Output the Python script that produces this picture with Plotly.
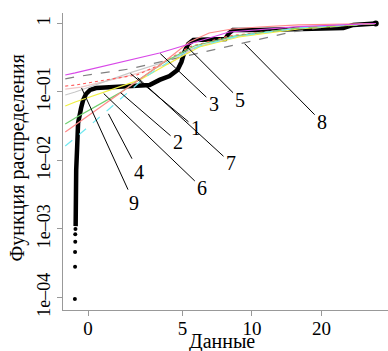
import math
import plotly.graph_objects as go

# ---------------- data ----------------
# empirical CDF: lowest isolated points
ecdf_low_x = [-0.70, -0.69, -0.69, -0.68, -0.68, -0.67]
ecdf_low_p = [9.5e-5, 2.8e-4, 4.6e-4, 6.5e-4, 8.4e-4, 1.0e-3]
# empirical CDF: dense part
ecdf_x = [-0.66, -0.66, -0.63, -0.58, -0.53, -0.37, -0.26, -0.11, 0.11, 0.42, 1.16, 2.58,
          3.26, 3.79, 4.32, 4.74, 4.95, 5.10, 5.30, 5.58, 6.21, 7.66, 7.97, 8.28, 10.7,
          15.9, 20.8, 24.9, 27.5, 31.9, 34.4]
ecdf_p = [1.1e-3, 2.65e-3, 7.3e-3, 0.0157, 0.0353, 0.0584, 0.0764, 0.0935, 0.107, 0.114,
          0.118, 0.122, 0.126, 0.150, 0.171, 0.21, 0.274, 0.384, 0.502, 0.574, 0.574,
          0.594, 0.727, 0.804, 0.804, 0.817, 0.831, 0.86, 0.951, 0.967, 1.0]

# fitted model CDFs
m1_x = [-1.21, -0.684, 2.21, 4.05, 5.63, 8.37, 15.93, 34.4]
m1_p = [0.0903, 0.100, 0.190, 0.274, 0.439, 0.635, 0.86, 1.0]
m2_x = [-1.21, -0.684, 1.684, 4.05, 5.63, 8.37, 15.93, 34.4]
m2_p = [0.0341, 0.0417, 0.097, 0.274, 0.469, 0.657, 0.86, 1.0]
m3_x = [-1.21, -0.684, 3.79, 5.36, 7.97, 15.93, 34.4]
m3_p = [0.177, 0.190, 0.371, 0.502, 0.751, 0.90, 1.0]
m4_x = [-1.21, -0.684, 1.053, 3.05, 4.58, 5.92, 8.79, 15.93, 34.4]
m4_p = [0.0163, 0.0213, 0.0546, 0.166, 0.314, 0.469, 0.657, 0.86, 1.0]
m5_x = [-1.21, -0.684, 3.95, 5.36, 6.53, 8.20, 10.72, 15.93, 34.4]
m5_p = [0.026, 0.033, 0.265, 0.537, 0.727, 0.831, 0.889, 0.951, 1.0]
m6_x = [-1.21, -0.684, 2.74, 4.32, 5.92, 8.79, 15.93, 34.4]
m6_p = [0.0624, 0.0714, 0.150, 0.265, 0.454, 0.635, 0.831, 1.0]
m7_x = [-1.21, -0.684, 0.947, 2.58, 3.79, 5.36, 7.97, 15.93, 34.4]
m7_p = [0.122, 0.126, 0.150, 0.177, 0.248, 0.454, 0.657, 0.86, 1.0]
m8_x = [-1.21, -0.684, 2.21, 6.73, 9.23, 14.86, 19.41, 34.4]
m8_p = [0.155, 0.166, 0.217, 0.410, 0.519, 0.751, 0.86, 1.0]
m9_x = [-1.21, -0.368, 2.58, 4.32, 5.63, 8.37, 15.93, 34.4]
m9_p = [0.110, 0.118, 0.185, 0.26, 0.44, 0.64, 0.86, 1.0]

x_ticks = [0, 5, 10, 20]
x_tick_labels = ["0", "5", "10", "20"]
y_ticks = [1e-4, 1e-3, 1e-2, 1e-1, 1]
y_tick_labels = ["1e\u201304", "1e\u201303", "1e\u201302", "1e\u201301", "1"]

label_names = ["1", "2", "3", "4", "5", "6", "7", "8", "9"]
label_pt_x = [2.21, 1.684, 3.79, 1.053, 5.25, 0.79, 2.58, 9.23, -0.368]
label_pt_p = [0.19, 0.10, 0.371, 0.0494, 0.454, 0.097, 0.166, 0.519, 0.118]

# ---------------- scale ----------------
K = (70 / 19) / math.log(2)


def tx(v):
    return v if v <= 5 else 5 + K * math.log(v / 5)


def T(xs):
    return [tx(v) for v in xs]


SERIF = "Liberation Serif, Times New Roman, serif"

fig = go.Figure()

fig.add_trace(go.Scatter(x=T(ecdf_x), y=ecdf_p, mode="lines",
                         line=dict(color="black", width=4.5), showlegend=False))
fig.add_trace(go.Scatter(x=T(ecdf_low_x), y=ecdf_low_p, mode="markers",
                         marker=dict(color="black", size=4), showlegend=False))
fig.add_trace(go.Scatter(x=[tx(ecdf_x[-1])], y=[ecdf_p[-1]], mode="markers",
                         marker=dict(color="black", size=6), showlegend=False))

models = [
    (m9_x, m9_p, "#f0c8c8", "solid"),
    (m1_x, m1_p, "#c8c8c8", "solid"),
    (m8_x, m8_p, "#808080", "dash"),
    (m7_x, m7_p, "#ff5a5a", "dot"),
    (m6_x, m6_p, "#f0f040", "solid"),
    (m2_x, m2_p, "#70d070", "solid"),
    (m4_x, m4_p, "#70e8f0", "dash"),
    (m5_x, m5_p, "#ff8a8a", "solid"),
    (m3_x, m3_p, "#d848e8", "solid"),
]
for mx, mp, col, dash in models:
    fig.add_trace(go.Scatter(x=T(mx), y=mp, mode="lines",
                             line=dict(color=col, width=1.2, dash=dash),
                             showlegend=False))

# label offsets (pixels)
label_dx = [66, 58, 54, 31, 53, 99, 94, 78, 53]
label_dy = [55, 50, 51, 59, 53, 95, 86, 79, 116]

annotations = []
for name, px, pp, dx, dy in zip(label_names, label_pt_x, label_pt_p, label_dx, label_dy):
    annotations.append(dict(
        x=tx(px), y=math.log10(pp), xref="x", yref="y",
        axref="pixel", ayref="pixel",
        text=name, showarrow=True, arrowhead=0, arrowsize=1, arrowwidth=1,
        arrowcolor="#000000",
        ax=dx, ay=dy, font=dict(family=SERIF, size=20, color="black"),
        standoff=1, startstandoff=1))

annotations.append(dict(text="Данные", xref="paper", yref="paper", x=0.489, y=-0.106,
                        showarrow=False, font=dict(family=SERIF, size=20, color="black"),
                        xanchor="center", yanchor="middle"))
annotations.append(dict(text="Функция распределения", xref="paper", yref="paper",
                        x=-0.14, y=0.512, textangle=-90, showarrow=False,
                        font=dict(family=SERIF, size=20, color="black"),
                        xanchor="center", yanchor="middle"))

fig.update_layout(
    width=388, height=351,
    margin=dict(l=63, r=0, t=13, b=41),
    plot_bgcolor="white", paper_bgcolor="white",
    annotations=annotations,
    font=dict(family=SERIF, size=19, color="black"),
)
fig.update_xaxes(range=[-1.33, 15.9], showgrid=False, zeroline=False,
                 tickvals=T(x_ticks), ticktext=x_tick_labels,
                 ticks="outside", ticklen=5, tickcolor="#999999",
                 ticklabelstandoff=-4,
                 showline=True, linecolor="#999999", linewidth=1,
                 tickfont=dict(family=SERIF, size=19, color="black"))
fig.update_yaxes(type="log", range=[-4.183, 0.153], showgrid=False, zeroline=False,
                 tickvals=y_ticks, ticktext=y_tick_labels, tickangle=-90,
                 ticks="outside", ticklen=5, tickcolor="#999999",
                 showline=True, linecolor="#999999", linewidth=1,
                 tickfont=dict(family=SERIF, size=18, color="black"))

fig.write_html("out.html", config={"displayModeBar": False},
               post_script="document.body.style.margin='0';document.body.style.overflow='hidden';")
